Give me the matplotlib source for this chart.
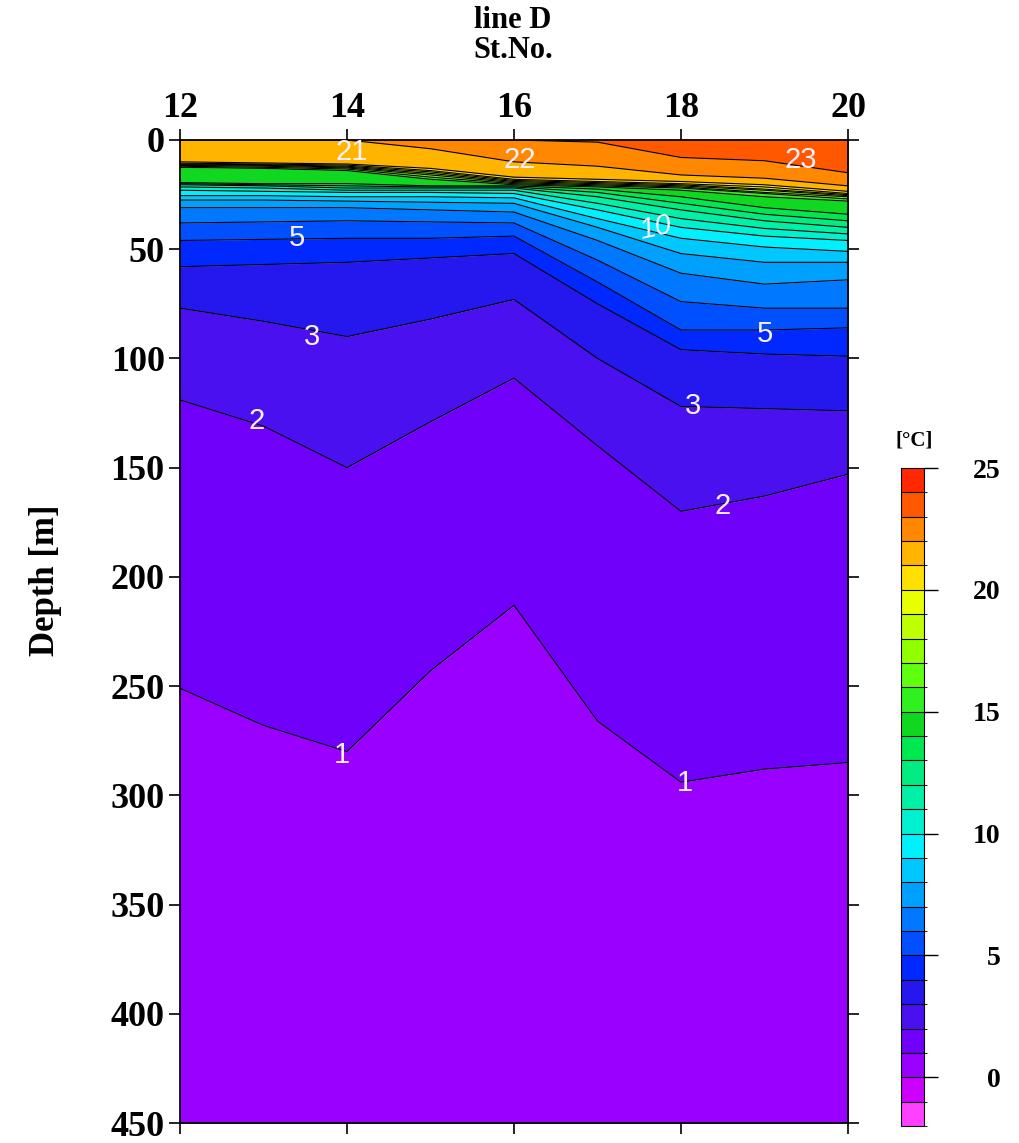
import numpy as np
import matplotlib
matplotlib.use("Agg")
import matplotlib.pyplot as plt
from matplotlib.colors import ListedColormap, BoundaryNorm
from matplotlib.cm import ScalarMappable

# stations along line D
stations = [12, 13, 14, 15, 16, 17, 18, 19, 20]

# isotherms (deg C) drawn in the section
iso_temps = list(range(1, 24))

# depth [m] of each isotherm (1..23 degC) at every station
st12 = [251, 119, 77, 58, 46, 38, 31, 27.5, 25.5, 23, 21.5, 20.5, 20, 19.5, 12.5, 12, 11.6, 11.3, 11, 10.6, 10, 0, 0]
st13 = [268, 131, 83, 57, 45.5, 37.5, 31, 27.5, 25.5, 23.5, 22, 21, 20.5, 20, 13, 12.5, 12, 11.6, 11.3, 11, 10.5, 0, 0]
st14 = [280, 150, 90, 56, 45, 37, 31, 28, 26, 24, 23, 22, 21, 20, 14, 13.3, 12.8, 12.4, 12, 11.5, 11, 0, 0]
st15 = [243, 129, 82, 54, 45, 37.5, 32, 28.5, 26, 24, 23, 22, 21.5, 21, 18, 17, 16, 15.3, 14.6, 14, 13, 4, 0]
st16 = [213, 109, 73, 52, 44, 38, 33, 29, 26.5, 24.5, 23, 22, 21.5, 21, 20.5, 20, 19.5, 19, 18.5, 18, 17, 10, 0]
st17 = [266, 140, 100, 75, 65, 55, 46, 40, 36, 32, 29, 26, 24, 22.5, 21.5, 21, 20.5, 20, 19.5, 19, 18, 12, 1]
st18 = [294, 170, 122, 96, 87, 74, 61, 52, 45, 40, 36, 32, 29, 26, 23, 22, 21.5, 21, 20.5, 20, 19, 16, 8]
st19 = [288, 163, 123, 98, 87, 77, 66, 56, 49, 44, 40.5, 37, 34, 31, 26, 24.5, 24, 23, 22.5, 21.5, 20.5, 17.5, 9.5]
st20 = [285, 153, 124, 99, 86, 77, 64, 56, 51, 46, 43, 40, 37, 34, 28, 27, 26, 25.5, 25, 24.5, 23.5, 21, 15]

# contour labels: text, station, depth
lab_text = ["21", "22", "23", "10", "5", "3", "2", "5", "3", "2", "1", "1"]
lab_x = [14.06, 16.07, 19.43, 17.69, 13.40, 13.58, 12.92, 19.01, 18.14, 18.50, 13.94, 18.05]
lab_d = [5.5, 9.1, 9.1, 40.2, 44.7, 90.4, 128.8, 89.0, 121.9, 167.6, 281.7, 294.5]

# colour scale -2..25 degC, 1 degree steps
levels = np.arange(-2, 26, 1)
colors = ['#ff40ff', '#cc00ff', '#9a00ff', '#7000fa', '#4a10f0', '#2418ee', '#0028ff',
          '#0050ff', '#0078ff', '#00a0ff', '#00c8ff', '#00f0ff', '#00f0d0', '#00f0a8',
          '#00ec80', '#00e850', '#10d820', '#30f020', '#60ff10', '#90ff00', '#c0ff00',
          '#e8ff00', '#ffe000', '#ffb400', '#ff8800', '#ff5800', '#ff2800']
cmap = ListedColormap(colors)
norm = BoundaryNorm(levels, cmap.N)

serif = "Liberation Serif"
depth_max = 450

iso = np.array([st12, st13, st14, st15, st16, st17, st18, st19, st20]).T  # (temp, station)
x = np.array(stations)

fig = plt.figure(figsize=(10.2, 11.43), dpi=100)
ax = fig.add_axes([180/1020, 1-1123/1143, 668/1020, 983/1143])

# bands between successive isotherms
bottom = np.full(len(x), depth_max)
for i, t in enumerate(iso_temps):
    ax.fill_between(x, iso[i], bottom, color=cmap(norm(t - 0.5)), lw=0)
    bottom = iso[i]
ax.fill_between(x, 0, bottom, color=cmap(norm(iso_temps[-1] + 0.5)), lw=0)

for i in range(len(iso_temps)):
    ax.plot(x, iso[i], color="black", lw=0.8)

for t, lx, ld in zip(lab_text, lab_x, lab_d):
    ax.text(lx, ld, t, color="#fbf0ff", fontsize=21, family="Liberation Sans",
            ha="center", va="center", rotation=12 if t == "10" else 0,
            style="italic" if t == "10" else "normal")

ax.set_xlim(12, 20)
ax.set_ylim(depth_max, 0)
ax.set_xticks([12, 14, 16, 18, 20])
ax.set_yticks(np.arange(0, 451, 50))
ax.xaxis.tick_top()
ax.tick_params(which="both", direction="out", length=8, width=1.2,
               top=True, bottom=True, left=True, right=True, labelbottom=False,
               labelsize=26, pad=3)
for lab in ax.get_xticklabels() + ax.get_yticklabels():
    lab.set_family(serif)
    lab.set_fontweight("bold")
for s in ax.spines.values():
    s.set_linewidth(1.3)

fig.text(45/1020, 1-580/1143, "Depth [m]", rotation=90, ha="center", va="center",
         family=serif, fontweight="bold", fontsize=25)
fig.text(513/1020, 1-21/1143, "line D", ha="center", va="center",
         family=serif, fontweight="bold", fontsize=22)
fig.text(513/1020, 1-51/1143, "St.No.", ha="center", va="center",
         family=serif, fontweight="bold", fontsize=22)

# colour bar
cax = fig.add_axes([901/1020, 1-1126/1143, 23/1020, 658/1143])
cb = fig.colorbar(ScalarMappable(norm=norm, cmap=cmap), cax=cax,
                  ticks=[0, 5, 10, 15, 20, 25], drawedges=True)
cb.outline.set_linewidth(0.8)
cb.dividers.set_linewidth(0.8)
cax.tick_params(length=10, width=1.0, labelsize=20, pad=45)
for lab in cax.get_yticklabels():
    lab.set_family(serif)
    lab.set_fontweight("bold")
    lab.set_horizontalalignment("right")
fig.text(914/1020, 1-440/1143, "[°C]", ha="center", va="center",
         family=serif, fontweight="bold", fontsize=15)

fig.savefig("out.png", dpi=100)
